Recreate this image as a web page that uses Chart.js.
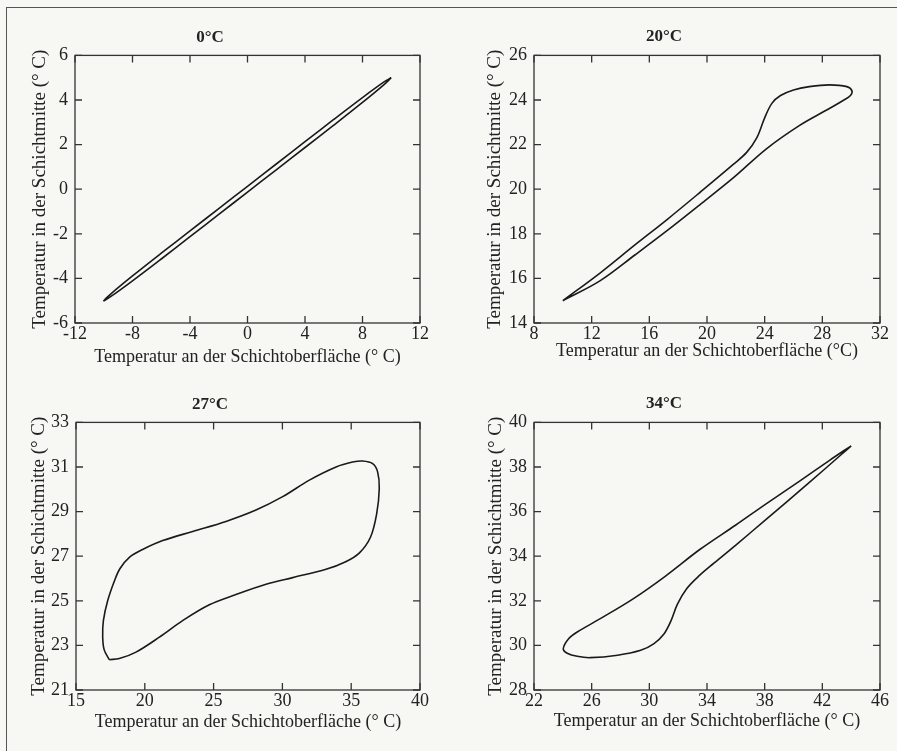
<!DOCTYPE html>
<html>
<head>
<meta charset="utf-8">
<script src="https://cdn.jsdelivr.net/npm/chart.js@4.4.1/dist/chart.umd.min.js"></script>
<style>
  body { margin: 0; background: #f7f7f4; }
  #page { position: relative; width: 897px; height: 751px; overflow: hidden; }
  #frame { position: absolute; left: 6px; top: 7px; right: -5px; bottom: -5px;
           border-left: 1.5px solid #555; border-top: 1.5px solid #555; }
  canvas { position: absolute; }
</style>
</head>
<body>
<div id="page">
  <div id="frame"></div>
  <canvas id="c0" width="448" height="380" style="left:0;top:0"></canvas>
  <canvas id="c20" width="448" height="380" style="left:448px;top:0"></canvas>
  <canvas id="c27" width="448" height="371" style="left:0;top:380px"></canvas>
  <canvas id="c34" width="448" height="371" style="left:448px;top:380px"></canvas>
</div>
<script>
const surf0 = [10, 9.5, 8, 6, 4, 2, 0, -2, -4, -6, -8, -9.5, -10, -9.5, -8, -6, -4, -2, 0, 2, 4, 6, 8, 9.5, 10];
const mid0 = [5, 4.81, 4.11, 3.13, 2.13, 1.13, 0.13, -0.87, -1.87, -2.87, -3.89, -4.69, -5, -4.81, -4.11, -3.13, -2.13, -1.13, -0.13, 0.87, 1.87, 2.87, 3.89, 4.69, 5];

const surf20 = [10, 12.6, 15, 17.25, 19.5, 21.8, 22.75, 23.45, 24.0, 24.5, 25.1, 26, 27.1, 28.5, 29.7, 30.05, 29.95, 29.5, 28.3, 26.4, 24.1, 21.9, 19.5, 17.25, 15, 12.6, 10];
const mid20 = [15, 16.25, 17.5, 18.65, 19.85, 21.1, 21.65, 22.3, 23.2, 23.85, 24.2, 24.45, 24.6, 24.68, 24.6, 24.42, 24.2, 24.0, 23.55, 22.85, 21.8, 20.55, 19.3, 18.15, 17.05, 15.9, 15];

const surf27 = [17.42, 17.05, 16.94, 16.99, 17.3, 17.79, 18.2, 18.88, 19.84, 21.3, 23.48, 25.9, 28.08, 30.02, 31.96, 33.9, 35.1, 35.83, 36.56, 36.92, 37.04, 36.85, 36.4, 35.6, 34.6, 33.17, 30.75, 28.81, 26.63, 24.69, 22.75, 21.06, 19.36, 18.15, 17.42];
const mid27 = [22.36, 22.8, 23.37, 24.11, 25.0, 25.89, 26.45, 26.95, 27.3, 27.7, 28.11, 28.56, 29.07, 29.67, 30.41, 31.0, 31.22, 31.27, 31.15, 30.78, 30.04, 28.9, 27.85, 27.15, 26.75, 26.41, 26.04, 25.74, 25.28, 24.82, 24.11, 23.37, 22.7, 22.41, 22.36];

const surf34 = [44.0, 42.5, 40.5, 38.1, 36.0, 33.5, 31.1, 28.9, 26.6, 25.0, 24.4, 24.03, 24.3, 25.0, 25.9, 27.8, 29.4, 30.3, 31.0, 31.5, 31.95, 32.6, 33.5, 34.5, 36.0, 38.1, 41.0, 43.3, 44.0];
const mid34 = [38.95, 38.3, 37.4, 36.35, 35.4, 34.3, 33.1, 32.1, 31.2, 30.6, 30.3, 29.85, 29.65, 29.51, 29.45, 29.56, 29.78, 30.07, 30.5, 31.1, 31.85, 32.55, 33.15, 33.7, 34.5, 35.65, 37.25, 38.55, 38.95];

// axis ranges: [min, max, step]
const xRange0 = [-12, 12, 4], yRange0 = [-6, 6, 2];
const xRange20 = [8, 32, 4], yRange20 = [14, 26, 2];
const xRange27 = [15, 40, 5], yRange27 = [21, 33, 2];
const xRange34 = [22, 46, 4], yRange34 = [28, 40, 2];

const titles = ['0°C', '20°C', '27°C', '34°C'];
const xTitleA = 'Temperatur an der Schichtoberfläche (° C)';
const xTitleB = 'Temperatur an der Schichtoberfläche (°C)';
const yTitle = 'Temperatur in der Schichtmitte (° C)';

const serif = "'Liberation Serif', 'DejaVu Serif', serif";
const ink = '#222';

// box round the plot with inward ticks on all four sides
const boxTicks = {
  id: 'boxTicks',
  afterDraw(chart) {
    const { ctx, chartArea: a, scales: { x, y } } = chart;
    ctx.save();
    ctx.strokeStyle = '#333';
    ctx.lineWidth = 1.3;
    ctx.strokeRect(a.left, a.top, a.right - a.left, a.bottom - a.top);
    ctx.beginPath();
    x.ticks.forEach(t => {
      const px = x.getPixelForValue(t.value);
      ctx.moveTo(px, a.bottom); ctx.lineTo(px, a.bottom - 7);
      ctx.moveTo(px, a.top); ctx.lineTo(px, a.top + 7);
    });
    y.ticks.forEach(t => {
      const py = y.getPixelForValue(t.value);
      ctx.moveTo(a.left, py); ctx.lineTo(a.left + 7, py);
      ctx.moveTo(a.right, py); ctx.lineTo(a.right - 7, py);
    });
    ctx.stroke();
    ctx.restore();
  }
};

function drawPanel(id, title, xs, ys, xr, yr, xTitle, box) {
  const pts = xs.map((v, i) => ({ x: v, y: ys[i] }));
  new Chart(document.getElementById(id), {
    type: 'scatter',
    data: {
      datasets: [{
        data: pts,
        showLine: true,
        borderColor: '#1a1a1a',
        borderWidth: 1.6,
        pointRadius: 0,
        tension: 0.35,
        fill: false
      }]
    },
    options: {
      responsive: false,
      animation: false,
      layout: { padding: { left: 0, top: 0, bottom: 0, right: box.padRight } },
      plugins: {
        legend: { display: false },
        tooltip: { enabled: false },
        title: {
          display: true,
          text: title,
          color: ink,
          font: { family: serif, size: 17, weight: 'bold', lineHeight: 1.2 },
          padding: { top: box.titleTop, bottom: box.titleBottom }
        }
      },
      scales: {
        x: {
          type: 'linear',
          min: xr[0], max: xr[1],
          afterFit: s => { s.height = box.xH; },
          ticks: { stepSize: xr[2], autoSkip: false, maxRotation: 0, padding: 0, color: ink,
                   font: { family: serif, size: 18 } },
          grid: { display: false, drawTicks: false },
          border: { display: false },
          title: { display: true, text: xTitle, color: ink,
                   font: { family: serif, size: 18, lineHeight: 1.2 },
                   padding: { top: 0, bottom: box.xTitlePad } }
        },
        y: {
          type: 'linear',
          min: yr[0], max: yr[1],
          afterFit: s => { s.width = box.yW; },
          ticks: { stepSize: yr[2], autoSkip: false, padding: 7, color: ink,
                   font: { family: serif, size: 18 } },
          grid: { display: false, drawTicks: false },
          border: { display: false },
          title: { display: true, text: yTitle, color: ink,
                   font: { family: serif, size: 19, lineHeight: 1.2 },
                   padding: { top: box.yTitlePad, bottom: 0 } }
        }
      }
    },
    plugins: [boxTicks]
  });
}

drawPanel('c0', titles[0], surf0, mid0, xRange0, yRange0, xTitleA,
  { padRight: 28, titleTop: 27, titleBottom: 8, xH: 57, yW: 75, xTitlePad: 12.2, yTitlePad: 28.6 });
drawPanel('c20', titles[1], surf20, mid20, xRange20, yRange20, xTitleB,
  { padRight: 16, titleTop: 26, titleBottom: 9, xH: 57, yW: 86, xTitlePad: 17.5, yTitlePad: 35.6 });
drawPanel('c27', titles[2], surf27, mid27, xRange27, yRange27, xTitleA,
  { padRight: 28, titleTop: 14.3, titleBottom: 7.7, xH: 61, yW: 76, xTitlePad: 17.9, yTitlePad: 27.9 });
drawPanel('c34', titles[3], surf34, mid34, xRange34, yRange34, xTitleA,
  { padRight: 16, titleTop: 13.7, titleBottom: 8.3, xH: 61, yW: 86, xTitlePad: 18.5, yTitlePad: 36.9 });
</script>
</body>
</html>
